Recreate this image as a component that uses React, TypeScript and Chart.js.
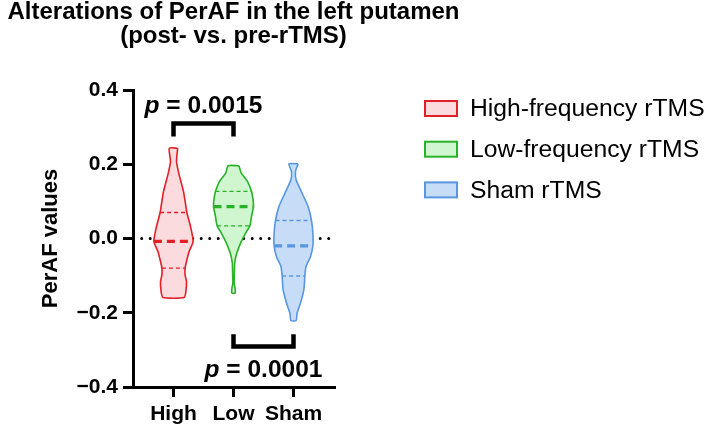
import React, { useEffect, useRef } from "react";
import { Chart, registerables } from "chart.js";

Chart.register(...registerables);

// ---------------- data ----------------
const CATEGORIES = ["High", "Low", "Sham"];
const SERIES_NAMES = ["High-frequency rTMS", "Low-frequency rTMS", "Sham rTMS"];
const TITLE_LINES = ["Alterations of PerAF in the left putamen", "(post- vs. pre-rTMS)"];
const Y_TITLE = "PerAF values";
const Y_TICKS = [-0.4, -0.2, 0.0, 0.2, 0.4];
const Y_TICK_LABELS = ["\u22120.4", "\u22120.2", "0.0", "0.2", "0.4"];

// violin outlines: sampled values (top -> bottom) and relative density (1 = widest)
const HIGH_VALUES = [0.243, 0.2075, 0.172, 0.127, 0.07, 0.028, -0.008, -0.035, -0.062, -0.08, -0.098, -0.116, -0.143, -0.159];
const HIGH_DENSITY = [0.21, 0.15, 0.28, 0.5, 0.67, 0.87, 0.98, 0.78, 0.65, 0.58, 0.58, 0.65, 0.62, 0.53];
const HIGH_QUARTILES = [-0.08, -0.008, 0.07]; // Q1, median, Q3

const LOW_VALUES = [0.196, 0.176, 0.154, 0.127, 0.104, 0.086, 0.059, 0.034, 0.014, -0.013, -0.04, -0.066, -0.102, -0.12, -0.134, -0.147];
const LOW_DENSITY = [0.27, 0.39, 0.7, 0.9, 0.98, 1.0, 0.9, 0.82, 0.6, 0.35, 0.16, 0.06, 0.04, 0.03, 0.08, 0.08];
const LOW_QUARTILES = [0.034, 0.086, 0.127];

const SHAM_VALUES = [0.201, 0.181, 0.158, 0.122, 0.086, 0.0485, 0.014, -0.02, -0.049, -0.075, -0.101, -0.138, -0.174, -0.201, -0.221];
const SHAM_DENSITY = [0.23, 0.1, 0.13, 0.43, 0.73, 0.9, 0.97, 0.97, 0.85, 0.63, 0.57, 0.52, 0.35, 0.18, 0.13];
const SHAM_QUARTILES = [-0.101, -0.02, 0.0485];

const COMPARISON_FROM = [0, 1];
const COMPARISON_TO = [1, 2];
const COMPARISON_P = ["0.0015", "0.0001"];

// ---------------- layout / style ----------------
const FAMILY = "'Liberation Sans', Arial, Helvetica, sans-serif";
const HALF_WIDTH = 0.333; // max violin half-width in category units
const BRACKET_LEG = [0.275, -0.258];
const BRACKET_BAR = [0.31, -0.291];
const P_TEXT_BASE = [0.338, -0.372];
const ZERO_LINE_X = [-0.53, 2.66];
const COLORS = [
  { line: "rgb(226,30,38)", fill: "rgb(252,219,222)" },
  { line: "rgb(40,178,40)", fill: "rgb(207,246,207)" },
  { line: "rgb(88,150,226)", fill: "rgb(199,220,246)" },
];

export default function App() {
  const ref = useRef<HTMLCanvasElement>(null);

  useEffect(() => {
    const canvas = ref.current;
    if (!canvas) return;
    Chart.defaults.font.family = FAMILY;

    const groups = [
      { values: HIGH_VALUES, density: HIGH_DENSITY, quart: HIGH_QUARTILES },
      { values: LOW_VALUES, density: LOW_DENSITY, quart: LOW_QUARTILES },
      { values: SHAM_VALUES, density: SHAM_DENSITY, quart: SHAM_QUARTILES },
    ];

    const datasets: any[] = [];
    datasets.push({
      label: "zero",
      data: ZERO_LINE_X.map((x) => ({ x, y: 0 })),
      borderColor: "#000",
      borderWidth: 3,
      borderDash: [0, 8.5],
      borderCapStyle: "round",
      pointRadius: 0,
      fill: false,
      order: 10,
    });

    groups.forEach((g, i) => {
      const right = g.values.map((v, k) => ({ x: i + g.density[k] * HALF_WIDTH, y: v }));
      const left = g.values.map((v, k) => ({ x: i - g.density[k] * HALF_WIDTH, y: v })).reverse();
      datasets.push({
        label: SERIES_NAMES[i],
        data: [...right, ...left, right[0]],
        borderColor: COLORS[i].line,
        backgroundColor: COLORS[i].fill,
        borderWidth: 1.6,
        fill: "shape",
        tension: 0.2,
        pointRadius: 0,
        order: 5,
      });
      g.quart.forEach((q, qi) => {
        const k = g.values.indexOf(q);
        const d = g.density[k];
        const isMed = qi === 1;
        datasets.push({
          label: "q",
          data: [
            { x: i - d * HALF_WIDTH, y: q },
            { x: i + d * HALF_WIDTH, y: q },
          ],
          borderColor: COLORS[i].line,
          borderWidth: isMed ? 3.2 : 1.3,
          borderDash: isMed ? [8, 5] : [4, 3],
          pointRadius: 0,
          fill: false,
          order: 1,
        });
      });
    });

    COMPARISON_FROM.forEach((from, i) => {
      const to = COMPARISON_TO[i];
      datasets.push({
        label: "bracket",
        data: [
          { x: from, y: BRACKET_LEG[i] },
          { x: from, y: BRACKET_BAR[i] },
          { x: to, y: BRACKET_BAR[i] },
          { x: to, y: BRACKET_LEG[i] },
        ],
        borderColor: "#000",
        borderWidth: 4.5,
        borderJoinStyle: "miter",
        borderCapStyle: "butt",
        pointRadius: 0,
        fill: false,
        order: 1,
      });
    });

    const overlay = {
      id: "overlay",
      afterDraw(chart: any) {
        const ctx = chart.ctx;
        const xs = chart.scales.x;
        const ys = chart.scales.y;
        ctx.save();
        ctx.fillStyle = "#000";
        ctx.textBaseline = "alphabetic";
        ctx.textAlign = "left";
        COMPARISON_FROM.forEach((from, i) => {
          const cx = xs.getPixelForValue((from + COMPARISON_TO[i]) / 2);
          const cy = ys.getPixelForValue(P_TEXT_BASE[i]);
          const italic = `italic bold 24.5px ${FAMILY}`;
          const bold = `bold 24.5px ${FAMILY}`;
          const rest = " = " + COMPARISON_P[i];
          ctx.font = italic;
          const w1 = ctx.measureText("p").width;
          ctx.font = bold;
          const w2 = ctx.measureText(rest).width;
          const x0 = cx - (w1 + w2) / 2;
          ctx.font = italic;
          ctx.fillText("p", x0, cy);
          ctx.font = bold;
          ctx.fillText(rest, x0 + w1, cy);
        });
        // legend
        ctx.font = `24.7px ${FAMILY}`;
        ctx.textBaseline = "middle";
        SERIES_NAMES.forEach((name, i) => {
          const cy = 108.5 + i * 40.7;
          ctx.fillStyle = COLORS[i].fill;
          ctx.fillRect(425, cy - 7.5, 32, 15);
          ctx.strokeStyle = COLORS[i].line;
          ctx.lineWidth = 2;
          ctx.strokeRect(425, cy - 7.5, 32, 15);
          ctx.fillStyle = "#000";
          ctx.fillText(name, 470, cy + 1);
        });
        ctx.restore();
      },
    };

    const chart = new Chart(canvas, {
      type: "line",
      data: { datasets },
      plugins: [overlay],
      options: {
        animation: false,
        responsive: false,
        devicePixelRatio: 1,
        events: [],
        layout: { padding: { left: 0, right: 242, top: 0, bottom: 0 } },
        plugins: {
          legend: { display: false },
          tooltip: { enabled: false },
          title: {
            display: true,
            text: TITLE_LINES,
            color: "#000",
            font: { size: 24, weight: "bold", lineHeight: 1.0, family: FAMILY },
            padding: { top: 0, bottom: 42 },
          },
        },
        scales: {
          x: {
            type: "linear",
            min: -0.675,
            max: 2.675,
            afterBuildTicks: (s: any) => {
              s.ticks = CATEGORIES.map((_, i) => ({ value: i }));
            },
            afterFit: (s: any) => {
              s.height = 43;
            },
            ticks: {
              autoSkip: false,
              maxRotation: 0,
              padding: 5,
              color: "#000",
              font: { size: 21, weight: "bold", family: FAMILY },
              callback: (v: any) => CATEGORIES[Math.round(Number(v))] ?? "",
            },
            grid: { drawOnChartArea: false, drawTicks: true, tickLength: 10, color: "#000", lineWidth: 3 },
            border: { display: true, color: "#000", width: 3 },
          },
          y: {
            type: "linear",
            position: "left",
            min: -0.4,
            max: 0.4,
            afterBuildTicks: (s: any) => {
              s.ticks = Y_TICKS.map((v) => ({ value: v }));
            },
            afterFit: (s: any) => {
              s.width = 133;
            },
            ticks: {
              padding: 5,
              color: "#000",
              font: { size: 21, weight: "bold", family: FAMILY },
              callback: (v: any) => {
                const idx = Y_TICKS.findIndex((t) => Math.abs(t - Number(v)) < 1e-9);
                return idx >= 0 ? Y_TICK_LABELS[idx] : "";
              },
            },
            grid: { drawOnChartArea: false, drawTicks: true, tickLength: 10, color: "#000", lineWidth: 3 },
            border: { display: true, color: "#000", width: 3 },
            title: {
              display: true,
              text: Y_TITLE,
              color: "#000",
              font: { size: 22, weight: "bold", family: FAMILY, lineHeight: 1.2 },
              padding: { top: 38, bottom: 0 },
            },
          },
          spacer: {
            type: "linear",
            axis: "y",
            position: "right",
            display: true,
            grid: { display: false },
            border: { display: false },
            ticks: { display: false },
            afterFit: (s: any) => {
              s.width = 133;
            },
          },
        },
      } as any,
    });
    return () => chart.destroy();
  }, []);

  return (
    <div style={{ position: "fixed", left: 0, top: 0, width: 709, height: 430, background: "#fff" }}>
      <canvas ref={ref} width={709} height={430} style={{ display: "block" }} />
    </div>
  );
}
